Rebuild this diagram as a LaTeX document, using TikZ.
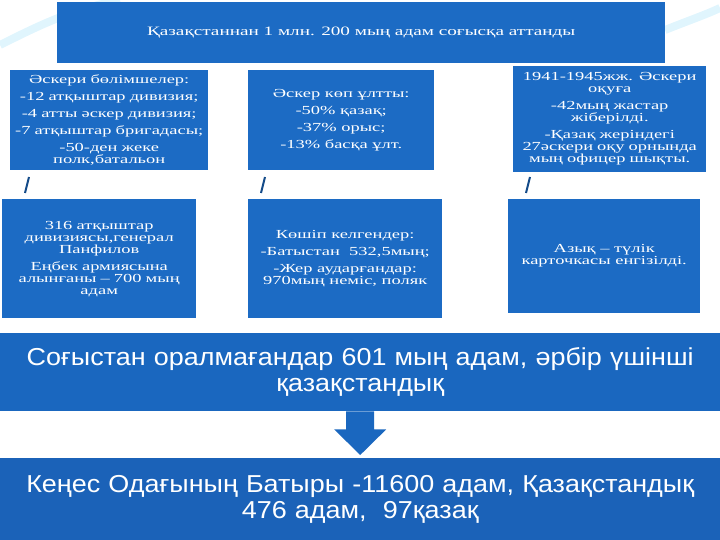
\documentclass[tikz,border=0pt]{standalone}
\usepackage{fontspec}
\setmainfont{Liberation Serif}
\setsansfont{Liberation Sans}
\newfontfamily\widefont[FakeStretch=1.5]{Liberation Serif}
\newfontfamily\bandfont[FakeStretch=1.1]{Liberation Sans}
\usetikzlibrary{calc}
\definecolor{boxblue}{HTML}{1C6BC4}
\definecolor{bandblue}{HTML}{1A67BF}
\definecolor{banddark}{HTML}{1B62B8}
\tikzstyle{cell} = [rectangle, fill=boxblue, text=white, align=center, font=\widefont\fontsize{12.3}{17}\selectfont, inner sep=0pt]
\tikzstyle{band} = [rectangle, fill=bandblue, text=white, align=center, font=\bandfont\fontsize{24.5}{26}\selectfont, minimum width=720pt, text width=700pt]
\tikzstyle{tick} = [line width=2pt, boxblue!70!black]

\begin{document}
\begin{tikzpicture}[x=1pt, y=-1pt]
\useasboundingbox (0,0) rectangle (720,540);

%% BACKGROUND
\draw [cyan!12, line width=8pt] (0,45) .. controls (40,25) and (70,10) .. (120,0);
\draw [cyan!12, line width=8pt] (665,30) .. controls (690,20) and (705,15) .. (720,8);

%% NODES

\node (title) [cell, font=\widefont\fontsize{12.8}{17}\selectfont, minimum width=608pt, minimum height=61pt, anchor=north west] at (57,2) {Қазақстаннан 1 млн. 200 мың адам соғысқа аттанды};

\node (units) [cell, minimum width=194pt, minimum height=100pt, text width=198pt, anchor=north west] at (10,70) {Әскери бөлімшелер:\\-12 атқыштар дивизия;\\-4 атты әскер дивизия;\\-7 атқыштар бригадасы;\\-50-ден жеке\\[-5pt]полк,батальон};
\node (nations) [cell, minimum width=186pt, minimum height=100pt, anchor=north west] at (248,70) {Әскер көп ұлтты:\\-50\% қазақ;\\-37\% орыс;\\-13\% басқа ұлт.};
\node (school) [cell, minimum width=193pt, minimum height=106pt, text width=193pt, anchor=north west] at (513,66) {1941-1945жж. Әскери\\[-5pt]оқуға\\-42мың жастар\\[-5pt]жіберілді.\\-Қазақ жеріндегі\\[-5pt]27әскери оқу орнында\\[-5pt]мың офицер шықты.};

\node (panfilov) [cell, minimum width=194pt, minimum height=119pt, text width=194pt, anchor=north west] at (2,199) {316 атқыштар\\[-5pt]дивизиясы,генерал\\[-5pt]Панфилов\\Еңбек армиясына\\[-5pt]алынғаны – 700 мың\\[-5pt]адам};
\node (settlers) [cell, minimum width=194pt, minimum height=119pt, anchor=north west] at (248,199) {Көшіп келгендер:\\-Батыстан~ 532,5мың;\\-Жер аударғандар:\\[-5pt]970мың неміс, поляк};
\node (ration) [cell, minimum width=192pt, minimum height=114pt, anchor=north west] at (508,199) {Азық – түлік\\[-5pt]карточкасы енгізілді.};

\node (lost) [band, minimum height=78pt, anchor=north west] at (0,333) {Соғыстан оралмағандар 601 мың адам, әрбір үшінші\\қазақстандық};
\node (heroes) [band, fill=banddark, minimum height=82pt, anchor=north west] at (0,458) {Кеңес Одағының Батыры -11600 адам, Қазақстандық\\476 адам,~ 97қазақ};

%% CONNECTORS

\foreach \col/\x in {units/27, nations/263, school/528}
  \draw [tick] (\x+2,177) -- (\x-2,193);

\fill [bandblue] ($(lost.south)+(-14,0)$) -- ++(28,0) -- ++(0,18) -- ++(12,0)
  -- ($(heroes.north)+(0,-3)$) -- ($(lost.south)+(-26,18)$) -- ++(12,0) -- cycle;

\end{tikzpicture}
\end{document}
